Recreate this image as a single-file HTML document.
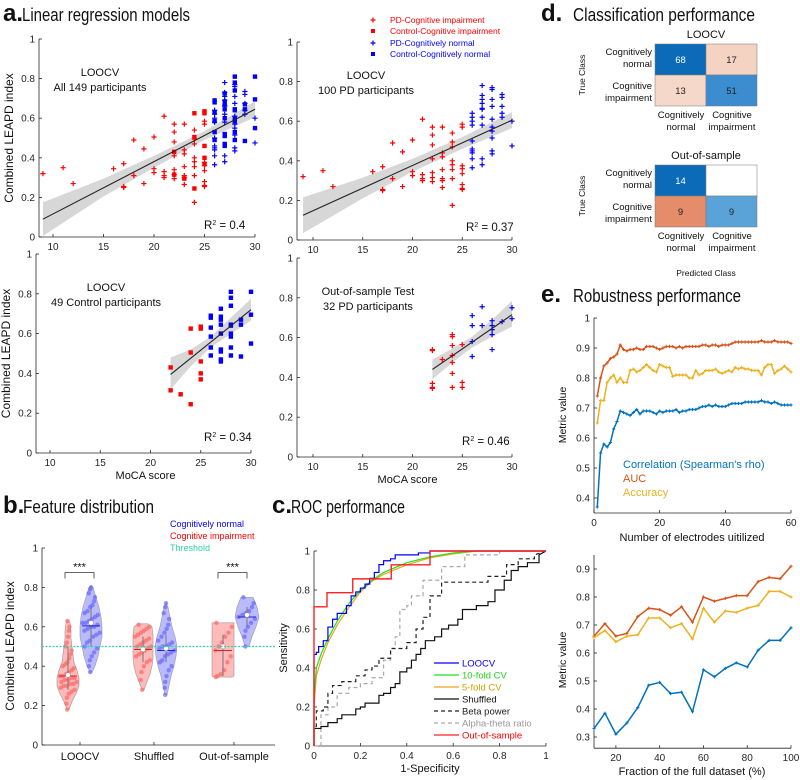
<!DOCTYPE html>
<html><head><meta charset="utf-8"><style>
html,body{margin:0;padding:0;background:#fff;}
svg{display:block;font-family:"Liberation Sans",sans-serif;}
.tk{font-size:10px;fill:#262626;}
.ttl{font-family:"Liberation Sans Narrow","Liberation Sans",sans-serif;font-size:18px;fill:#111;}
.lt{font-family:"Liberation Sans",sans-serif;font-weight:bold;font-size:24px;fill:#111;}
</style></head><body>
<svg id="fig" width="800" height="780" viewBox="0 0 800 780">
<rect x="0" y="0" width="800" height="780" fill="#fff"/>
<g><text x="3" y="21" class="lt">a.</text><text x="22" y="21" class="ttl" textLength="168" lengthAdjust="spacingAndGlyphs">Linear regression models</text></g>
<g><text x="3" y="513" class="lt">b.</text><text x="23" y="513" class="ttl" textLength="131" lengthAdjust="spacingAndGlyphs">Feature distribution</text></g>
<g><text x="272" y="513" class="lt">c.</text><text x="291" y="513" class="ttl" textLength="114" lengthAdjust="spacingAndGlyphs">ROC performance</text></g>
<g><text x="541" y="21" class="lt">d.</text><text x="573" y="21" class="ttl" textLength="182" lengthAdjust="spacingAndGlyphs">Classification performance</text></g>
<g><text x="541" y="302" class="lt">e.</text><text x="573" y="302" class="ttl" textLength="168" lengthAdjust="spacingAndGlyphs">Robustness performance</text></g>
<g font-size="8.5">
<text x="390" y="23" fill="#f00">PD-Cognitive impairment</text>
<text x="390" y="34" fill="#f00">Control-Cognitive impairment</text>
<text x="390" y="46" fill="#00f">PD-Cognitively normal</text>
<text x="390" y="57" fill="#00f">Control-Cognitively normal</text>
</g>
<g id="gA"></g>
<g id="gB"></g>
<g id="gC"></g>
<g id="gD"></g>
<g id="gE"></g>
</svg>
<script>
// ===== Panel a data: [MoCA, index] =====
const pdImpair=[[9,.32],[11,.35],[12,.27],[16,.345],[17,.37],[17,.255],[17,.25],[18,.49],[18,.31],[19,.445],[19,.27],[20,.505],[20,.345],[20,.325],[21,.61],[21,.33],[21,.31],[21,.3],[22,.57],[22,.53],[22,.48],[22,.41],[22,.34],[22,.315],[22,.295],[23,.57],[23,.44],[23,.42],[23,.355],[23,.31],[23,.3],[23,.265],[24,.54],[24,.495],[24,.47],[24,.4],[24,.38],[24,.355],[24,.31],[24,.175],[25,.585],[25,.57],[25,.375],[25,.36],[25,.335],[25,.28],[25,.26],[25,.255]];
const pdNormal=[[26,.64],[26,.62],[26,.6],[26,.58],[26,.5],[26,.46],[26,.45],[26,.44],[26,.41],[26,.365],[27,.78],[27,.73],[27,.71],[27,.69],[27,.665],[27,.66],[27,.62],[27,.58],[27,.41],[27,.38],[28,.77],[28,.76],[28,.71],[28,.675],[28,.61],[28,.57],[28,.55],[28,.515],[28,.45],[28,.435],[29,.735],[29,.72],[29,.675],[29,.64],[29,.62],[30,.6],[30,.475]];
const ctrlImpair=[[22,.43],[22,.315],[23,.295],[24,.245],[24,.505],[24,.625],[25,.635],[25,.625],[25,.46],[25,.4],[25,.37]];
const ctrlNormal=[[26,.69],[26,.68],[26,.63],[26,.585],[26,.53],[26,.49],[27,.725],[27,.685],[27,.67],[27,.645],[27,.6],[27,.52],[27,.51],[27,.47],[27,.46],[28,.81],[28,.78],[28,.74],[28,.645],[28,.64],[28,.6],[28,.585],[28,.53],[28,.49],[29,.67],[29,.645],[29,.485],[30,.81],[30,.695],[30,.55]];
const oosImpair=[[22,.54],[22,.535],[22,.37],[22,.35],[22,.345],[23,.49],[24,.615],[24,.605],[24,.56],[24,.51],[24,.475],[24,.42],[24,.35],[25,.565],[25,.375],[25,.35]];
const oosNormal=[[26,.71],[26,.66],[26,.58],[26,.505],[27,.755],[27,.66],[28,.685],[28,.66],[28,.64],[28,.615],[28,.54],[29,.68],[30,.75],[30,.695]];
const fitTL=[[9,.09],[30,.645]], fitTR=[[9,.125],[30,.605]], fitBL=[[22,.395],[30,.72]], fitBR=[[22,.44],[30,.715]];
const bandTL=[[9,.005,.175],[15,.205,.295],[20,.35,.41],[25,.49,.535],[30,.605,.685]];
const bandTR=[[9,.035,.215],[15,.21,.315],[20,.345,.41],[25,.46,.52],[30,.565,.645]];
const bandBL=[[22,.32,.48],[24,.435,.52],[26,.53,.585],[28,.6,.68],[30,.665,.775]];
const bandBR=[[22,.39,.49],[24,.475,.545],[26,.55,.605],[28,.605,.69],[30,.655,.785]];
const r2Labels=['0.4','0.37','0.34','0.46'];
const aXTicks=[10,15,20,25,30], aYTicks=[0,.2,.4,.6,.8,1];

// ===== Panel b data =====
const bCats=['LOOCV','Shuffled','Out-of-sample'];
const vLevels=[[.18,.22,.26,.3,.34,.38,.42,.46,.5,.54,.58,.62,.635],[.37,.4,.45,.5,.55,.6,.65,.7,.75,.8,.81],[.28,.32,.36,.4,.44,.48,.52,.56,.6,.615],[.255,.3,.35,.4,.45,.5,.55,.6,.65,.7,.72],[.345,.35,.4,.45,.5,.55,.6,.62],[.5,.55,.6,.65,.7,.75]];
const vWidths=[[1,4,8,11,11,9,6,5,4,3,3,2,0],[1,4,7,9,11,11,10,8,5,2,0],[1,4,7,9,10,10,10,10,9,5],[1,3,5,8,10,11,9,6,4,2,0],[9,11,11,11,11,11,11,11],[2,5,9,12,10,6]];
const vMedians=[.355,.62,.485,.49,.5,.66];
const vMeans=[.35,.605,.485,.48,.48,.65];
const vBoxLo=[.28,.5,.42,.42,.35,.6], vBoxHi=[.5,.7,.55,.56,.56,.7];
const vDots=[
[.18,.21,.24,.26,.27,.28,.29,.3,.3,.31,.31,.32,.32,.33,.33,.34,.34,.35,.35,.36,.37,.38,.39,.4,.41,.42,.44,.46,.48,.5,.52,.55,.58,.6,.63],
[.37,.4,.43,.45,.47,.49,.5,.52,.53,.55,.56,.57,.58,.59,.6,.6,.61,.62,.62,.63,.64,.65,.66,.67,.68,.7,.71,.73,.75,.77,.79,.8],
[.28,.33,.37,.4,.42,.43,.45,.46,.47,.48,.49,.5,.5,.51,.52,.53,.54,.55,.56,.57,.58,.59,.6,.61],
[.255,.29,.32,.35,.38,.4,.42,.43,.45,.46,.47,.48,.49,.5,.5,.51,.52,.53,.55,.57,.59,.61,.64,.67,.7,.72],
[.345,.35,.36,.38,.42,.45,.48,.5,.52,.55,.57,.6,.62],
[.5,.55,.58,.6,.62,.64,.65,.66,.67,.68,.7,.72,.75]];
const bYTicks=[0,.2,.4,.6,.8,1];
const threshold=.5;

// ===== Panel c data: [1-spec, sens] =====
const rocLOOCV=[[0,0],[0,.47],[.01,.47],[.01,.48],[.02,.48],[.02,.51],[.04,.51],[.04,.54],[.06,.54],[.06,.61],[.08,.61],[.08,.65],[.1,.65],[.1,.68],[.14,.68],[.14,.72],[.16,.72],[.16,.77],[.18,.77],[.18,.79],[.2,.79],[.2,.81],[.22,.81],[.22,.83],[.24,.83],[.24,.86],[.26,.86],[.26,.89],[.28,.89],[.28,.93],[.3,.93],[.3,.95],[.33,.95],[.33,.96],[.35,.96],[.35,.98],[.45,.98],[.45,.99],[.5,.99],[.5,1],[1,1]];
const roc10=[[0,0],[0,.25],[.01,.4],[.03,.47],[.06,.55],[.1,.64],[.15,.73],[.2,.8],[.25,.85],[.3,.89],[.4,.94],[.5,.97],[.6,.99],[.7,1],[1,1]];
const roc5=[[0,0],[0,.2],[.01,.36],[.03,.44],[.06,.53],[.1,.62],[.15,.71],[.2,.79],[.25,.845],[.3,.88],[.4,.93],[.5,.965],[.6,.985],[.7,1],[1,1]];
const rocShuf=[[0,0],[0,.09],[.03,.09],[.03,.1],[.06,.1],[.06,.12],[.1,.12],[.1,.14],[.12,.14],[.12,.16],[.18,.16],[.18,.19],[.2,.19],[.2,.2],[.22,.2],[.22,.22],[.28,.22],[.28,.26],[.3,.26],[.3,.27],[.33,.27],[.33,.3],[.35,.3],[.35,.32],[.37,.32],[.37,.38],[.4,.38],[.4,.4],[.42,.4],[.42,.44],[.44,.44],[.44,.47],[.46,.47],[.46,.5],[.48,.5],[.48,.54],[.52,.54],[.52,.56],[.55,.56],[.55,.6],[.58,.6],[.58,.62],[.62,.62],[.62,.65],[.64,.65],[.64,.7],[.7,.7],[.7,.72],[.75,.72],[.75,.74],[.78,.74],[.78,.8],[.82,.8],[.82,.85],[.85,.85],[.85,.9],[.88,.9],[.88,.92],[.92,.92],[.92,.94],[.97,.94],[.97,.98],[1,1]];
const rocBeta=[[0,0],[0,.1],[.01,.1],[.01,.18],[.04,.18],[.04,.2],[.06,.2],[.06,.27],[.08,.27],[.08,.31],[.12,.31],[.12,.33],[.18,.33],[.18,.36],[.22,.36],[.22,.39],[.25,.39],[.25,.41],[.28,.41],[.28,.45],[.33,.45],[.33,.5],[.4,.5],[.4,.53],[.44,.53],[.44,.6],[.47,.6],[.47,.66],[.5,.66],[.5,.77],[.55,.77],[.55,.84],[.75,.84],[.75,.87],[.83,.87],[.83,.93],[.88,.93],[.88,.96],[.95,.96],[.95,.98],[1,1]];
const rocAlpha=[[0,0],[.03,0],[.03,.16],[.06,.16],[.06,.2],[.1,.2],[.1,.27],[.15,.27],[.15,.3],[.2,.3],[.2,.32],[.25,.32],[.25,.35],[.3,.35],[.3,.44],[.33,.44],[.33,.5],[.35,.5],[.35,.56],[.37,.56],[.37,.7],[.4,.7],[.4,.72],[.42,.72],[.42,.77],[.47,.77],[.47,.85],[.55,.85],[.55,.92],[.65,.92],[.65,.98],[.8,.98],[.8,1],[1,1]];
const rocOOS=[[0,0],[0,.714],[.056,.714],[.056,.786],[.167,.786],[.167,.857],[.333,.857],[.333,.929],[.5,.929],[.5,1],[1,1]];
const cTicks=[0,.2,.4,.6,.8,1];

// ===== Panel d data =====
const cmLOOCV=[[68,17],[13,51]];
const cmOOS=[[14,0],[9,9]];

// ===== Panel e data =====
const eAUC1=[.74,.80,.84,.85,.865,.87,.88,.91,.895,.89,.895,.895,.9,.895,.895,.905,.905,.905,.9,.895,.9,.905,.905,.905,.9,.905,.9,.905,.905,.905,.905,.905,.91,.91,.905,.91,.91,.905,.91,.91,.91,.915,.92,.92,.92,.92,.92,.92,.92,.92,.925,.92,.92,.92,.925,.92,.92,.92,.92,.915];
const eAcc1=[.65,.725,.725,.785,.80,.81,.785,.80,.785,.785,.825,.83,.82,.825,.835,.845,.835,.825,.82,.845,.84,.835,.835,.805,.81,.81,.81,.81,.80,.80,.825,.81,.815,.825,.825,.825,.83,.82,.815,.82,.825,.82,.835,.83,.835,.83,.83,.825,.825,.825,.81,.835,.845,.845,.815,.825,.83,.84,.83,.82];
const eCorr1=[.37,.55,.58,.57,.585,.63,.655,.69,.685,.68,.675,.685,.695,.68,.69,.69,.69,.685,.68,.69,.685,.69,.69,.69,.695,.685,.69,.69,.695,.695,.695,.7,.705,.705,.71,.705,.71,.705,.705,.705,.71,.715,.715,.715,.715,.72,.72,.72,.72,.72,.725,.72,.72,.715,.72,.715,.71,.71,.71,.71];
const eFrac=[10,15,20,25,30,35,40,45,50,55,60,65,70,75,80,85,90,95,100];
const eAUC2=[.66,.705,.66,.67,.73,.76,.755,.735,.765,.71,.80,.785,.795,.805,.805,.855,.87,.865,.91];
const eAcc2=[.655,.68,.64,.66,.665,.725,.725,.69,.705,.65,.76,.71,.75,.745,.76,.77,.82,.82,.80];
const eCorr2=[.33,.385,.31,.35,.405,.485,.495,.455,.46,.39,.54,.515,.545,.565,.55,.61,.645,.645,.69];
const e1XTicks=[0,20,40,60], e1YTicks=[.4,.5,.6,.7,.8,.9,1];
const e2XTicks=[20,40,60,80,100], e2YTicks=[.3,.4,.5,.6,.7,.8,.9];

const NS='http://www.w3.org/2000/svg';
function mk(tag,attrs,parent){const e=document.createElementNS(NS,tag);for(const k in attrs)e.setAttribute(k,attrs[k]);parent.appendChild(e);return e;}
function lin(d0,d1,r0,r1){return v=>r0+(v-d0)*(r1-r0)/(d1-d0);}
function fmt(v){return (Math.round(v*10)/10).toString();}

function axes(g,sx,sy,x0,x1,y0,y1,xt,yt,xfmt,yfmt,name){
  const ya=mk('line',{x1:x0,y1:sy(y0),x2:x0,y2:sy(y1),stroke:'#262626','stroke-width':0.8},g);
  
  
  const xa=mk('line',{x1:x0,y1:sy(y0),x2:x1,y2:sy(y0),stroke:'#262626','stroke-width':0.8},g);
  
  
  yt.forEach(v=>{
    const t=mk('line',{x1:x0,y1:sy(v),x2:x0+3,y2:sy(v),stroke:'#262626','stroke-width':0.8},g);
    
    
    const l=mk('text',{x:x0-4,y:sy(v)+3.5,'text-anchor':'end',class:'tk'},g);
    l.textContent=yfmt(v);
    
    
  });
  if(xt) xt.forEach(v=>{
    const t=mk('line',{x1:sx(v),y1:sy(y0),x2:sx(v),y2:sy(y0)-3,stroke:'#262626','stroke-width':0.8},g);
    
    
    const l=mk('text',{x:sx(v),y:sy(y0)+13,'text-anchor':'middle',class:'tk'},g);
    l.textContent=xfmt(v);
    
    
  });
}
function txt(g,x,y,s,attrs,name){const t=mk('text',Object.assign({x:x,y:y},attrs),g);t.textContent=s;return t;}

// ---------- Panel a ----------
const gA=document.getElementById('gA');
const subs=[
 {ax:39,y1:39,y0:237,x10:53,x30:255,pts:[[pdImpair,'plus','#f00'],[pdNormal,'plus','#00f'],[ctrlImpair,'sq','#f00'],[ctrlNormal,'sq','#00f']],fit:fitTL,band:bandTL,l1:'LOOCV',l2:'All 149 participants',cx:100,r2x:204,r2y:229,nm:'all'},
 {ax:297,y1:42,y0:240,x10:313,x30:512,pts:[[pdImpair,'plus','#f00'],[pdNormal,'plus','#00f']],fit:fitTR,band:bandTR,l1:'LOOCV',l2:'100 PD participants',cx:366,r2x:466,r2y:231,nm:'pd'},
 {ax:36,y1:254,y0:453,x10:50,x30:251,pts:[[ctrlImpair,'sq','#f00'],[ctrlNormal,'sq','#00f']],fit:fitBL,band:bandBL,l1:'LOOCV',l2:'49 Control participants',cx:106,r2x:204,r2y:441,nm:'control'},
 {ax:297,y1:258,y0:457,x10:313,x30:512,pts:[[oosImpair,'plus','#f00'],[oosNormal,'plus','#00f']],fit:fitBR,band:bandBR,l1:'Out-of-sample Test',l2:'32 PD participants',cx:368,r2x:462,r2y:445,nm:'oos'}
];
subs.forEach((s,i)=>{
  const g=mk('g',{},gA);
  
  
  const sx=lin(10,30,s.x10,s.x30), sy=lin(0,1,s.y0,s.y1);
  axes(g,sx,sy,s.ax,s.x30,0,1,aXTicks,aYTicks,v=>v,fmt,'scatter-'+s.nm);
  const up=s.band.map(b=>sx(b[0])+','+sy(b[2])).join(' ');
  const dn=s.band.slice().reverse().map(b=>sx(b[0])+','+sy(b[1])).join(' ');
  const band=mk('polygon',{points:up+' '+dn,fill:'#d3d3d3',opacity:0.9},g);
  
  
  s.pts.forEach(([arr,mkr,col])=>{
    arr.forEach(p=>{
      const x=sx(p[0]),y=sy(p[1]);
      if(mkr==='sq'){
        const r=mk('rect',{x:x-2.2,y:y-2.2,width:4.4,height:4.4,fill:col},g);
        
        
      } else {
        const pth=mk('path',{d:`M${x-2.6},${y}H${x+2.6}M${x},${y-2.6}V${y+2.6}`,stroke:col,'stroke-width':1.2},g);
        
        
      }
    });
  });
  const fl=mk('line',{x1:sx(s.fit[0][0]),y1:sy(s.fit[0][1]),x2:sx(s.fit[1][0]),y2:sy(s.fit[1][1]),stroke:'#222','stroke-width':1.1},g);
  
  
  txt(g,s.cx,76,s.l1,{'text-anchor':'middle','font-size':'11',fill:'#111',transform:`translate(0,${s.y1-39})`},'annotation-title');
  txt(g,s.cx,91,s.l2,{'text-anchor':'middle','font-size':'11',fill:'#111',transform:`translate(0,${s.y1-39})`},'annotation-participants');
  const r=mk('text',{x:s.r2x,y:s.r2y,'font-size':'11.5',fill:'#111'},g);
  r.innerHTML='R<tspan dy="-4" font-size="7">2</tspan><tspan dy="4"> = '+r2Labels[i]+'</tspan>';
  
  
  if(i%2===0){
    txt(g,0,0,'Combined LEAPD index',{'text-anchor':'middle','font-size':'12',fill:'#111',transform:`translate(${s.ax-26},${(s.y0+s.y1)/2}) rotate(-90)`},'y-axis-title');
  }
  if(i>=2){
    txt(g,(s.x10+s.x30)/2-5,s.y0+26,'MoCA score',{'text-anchor':'middle','font-size':'11',fill:'#111'},'x-axis-title');
  }
});
(function(){
  const cols=['#f00','#f00','#00f','#00f'],types=['plus','sq','plus','sq'],ys=[20,31,43,54];
  types.forEach((t,i)=>{
    let m;
    if(t==='sq'){m=mk('rect',{x:371,y:ys[i]-2,width:4,height:4,fill:cols[i]},gA);}
    else {m=mk('path',{d:`M${370.5},${ys[i]}H${375.5}M${373},${ys[i]-2.5}V${ys[i]+2.5}`,stroke:cols[i],'stroke-width':1.2},gA);}
    
    
  });
})();

// ---------- Panel b ----------
const gB=document.getElementById('gB');
(function(){
  const sy=lin(0,1,745,548);
  const vx=[68,91,143,166,223,247];
  const catX=[80,154,234];
  const fills=['#f66','#66f','#f66','#66f','#f66','#66f'];
  const dark=['#d22','#22c','#d22','#22c','#d22','#22c'];
  axes(gB,null,sy,42,275,0,1,null,bYTicks,null,fmt,'violin');
  bCats.forEach((c,i)=>{
    const t=mk('line',{x1:catX[i],y1:745,x2:catX[i],y2:742,stroke:'#262626','stroke-width':0.8},gB);
    
    
    txt(gB,catX[i],760,c,{'text-anchor':'middle','font-size':'11',fill:'#111'},'category-label-'+i);
  });
  txt(gB,0,0,'Combined LEAPD index',{'text-anchor':'middle','font-size':'12',fill:'#111',transform:'translate(14,646) rotate(-90)'},'y-axis-title');
  vLevels.forEach((lv,i)=>{
    const w=vWidths[i],x=vx[i];
    const right=lv.map((v,k)=>(x+w[k])+','+sy(v));
    const left=lv.map((v,k)=>(x-w[k])+','+sy(v)).reverse();
    const p=mk('polygon',{points:right.concat(left).join(' '),fill:fills[i],'fill-opacity':0.45,stroke:'#999','stroke-width':0.6},gB);
    
    
    vDots[i].forEach((v,k)=>{
      let ww=0;for(let j=0;j<lv.length-1;j++){if(v>=lv[j]&&v<=lv[j+1]){const f=(v-lv[j])/(lv[j+1]-lv[j]);ww=w[j]+(w[j+1]-w[j])*f;}}
      const off=(((k*37)%17)-8)/8*ww*0.8;
      const d=mk('circle',{cx:x+off,cy:sy(v),r:2.2,fill:fills[i],'fill-opacity':0.7},gB);
      
      
    });
    const bx=mk('line',{x1:x,y1:sy(vBoxLo[i]),x2:x,y2:sy(vBoxHi[i]),stroke:'#777','stroke-width':1},gB);
    
    
    const mn=mk('line',{x1:x-9,y1:sy(vMeans[i]),x2:x+9,y2:sy(vMeans[i]),stroke:dark[i],'stroke-width':1},gB);
    
    
    const md=mk('circle',{cx:x,cy:sy(vMedians[i]),r:2.4,fill:'#fff',stroke:'#888','stroke-width':0.5},gB);
    
    
  });
  const th=mk('line',{x1:42,y1:sy(threshold),x2:275,y2:sy(threshold),stroke:'#2ed3a8','stroke-width':1.3,'stroke-dasharray':'2,1.5'},gB);
  
  
  [[65,94],[218,247]].forEach(([a,b])=>{
    const br=mk('path',{d:`M${a},${sy(.845)}V${sy(.875)}H${b}V${sy(.845)}`,fill:'none',stroke:'#333','stroke-width':0.8},gB);
    
    
    txt(gB,(a+b)/2,sy(.875)-2,'***',{'text-anchor':'middle','font-size':'11',fill:'#111'},'significance-stars');
  });
  txt(gB,170,527,'Cognitively normal',{'font-size':'9',fill:'#00f'},'legend-normal');
  txt(gB,170,539,'Cognitive impairment',{'font-size':'9',fill:'#f00'},'legend-impairment');
  txt(gB,170,551,'Threshold',{'font-size':'9',fill:'#2ed3a8'},'legend-threshold');
})();

// ---------- Panel c ----------
const gC=document.getElementById('gC');
(function(){
  const sx=lin(0,1,314,546), sy=lin(0,1,746,551);
  axes(gC,sx,sy,314,546,0,1,cTicks,cTicks,fmt,fmt,'roc');
  txt(gC,0,0,'Sensitivity',{'text-anchor':'middle','font-size':'11',fill:'#111',transform:'translate(287,648) rotate(-90)'},'y-axis-title');
  txt(gC,430,772,'1-Specificity',{'text-anchor':'middle','font-size':'11',fill:'#111'},'x-axis-title');
  const series=[[rocAlpha,'#aaa','4,3','alpha-theta'],[rocBeta,'#222','4,3','beta-power'],[rocShuf,'#111','','shuffled'],[roc5,'#f0a020','','five-fold'],[roc10,'#20e020','','ten-fold'],[rocLOOCV,'#00f','','loocv'],[rocOOS,'#f22','','out-of-sample']];
  series.forEach(([d,c,da,n])=>{
    const p=mk('polyline',{points:d.map(q=>sx(q[0])+','+sy(q[1])).join(' '),fill:'none',stroke:c,'stroke-width':n==='out-of-sample'?1.4:1.2,'stroke-dasharray':da},gC);
    
    
  });
  const leg=[['LOOCV','#00f','','#00f'],['10-fold CV','#20e020','','#20d020'],['5-fold CV','#f0a020','','#d9a000'],['Shuffled','#111','','#111'],['Beta power','#222','4,3','#222'],['Alpha-theta ratio','#aaa','4,3','#999'],['Out-of-sample','#f22','','#f00']];
  leg.forEach((l,i)=>{
    const y=663+i*12;
    const ln=mk('line',{x1:434,y1:y,x2:459,y2:y,stroke:l[1],'stroke-width':1.3,'stroke-dasharray':l[2]},gC);
    
    
    txt(gC,462,y+3.5,l[0],{'font-size':'9.5',fill:l[3]},'roc-legend-label');
  });
})();

// ---------- Panel d ----------
const gD=document.getElementById('gD');
(function(){
  const colLOO=[['#0b6bb8','#f4d3c3'],['#f5d8ca','#3b8dd0']];
  const colOOS=[['#0b6bb8','#ffffff'],['#e58c6b','#5aa3d8']];
  const txtCol=[['#fff','#222'],['#222','#222']];
  function cm(data,cols,top,title,nm){
    const g=mk('g',{},gD);
    
    
    const L=655,W=51,H=31;
    txt(g,706,top-6,title,{'text-anchor':'middle','font-size':'11',fill:'#111'},'matrix-title');
    data.forEach((row,r)=>row.forEach((v,c)=>{
      const rc=mk('rect',{x:L+c*W,y:top+r*H,width:W,height:H,fill:cols[r][c],stroke:'#777','stroke-width':0.5},g);
      
      
      if(v>0) txt(g,L+c*W+W/2,top+r*H+H/2+3.5,String(v),{'text-anchor':'middle','font-size':'9.5',fill:(nm==='oos'&&r===0)?'#fff':txtCol[r][c]},'matrix-value');
    }));
    txt(g,652,top+11,'Cognitively',{'text-anchor':'end','font-size':'9.5',fill:'#111'},'row-label');
    txt(g,652,top+23,'normal',{'text-anchor':'end','font-size':'9.5',fill:'#111'},'row-label');
    txt(g,652,top+45,'Cognitive',{'text-anchor':'end','font-size':'9.5',fill:'#111'},'row-label');
    txt(g,652,top+57,'impairment',{'text-anchor':'end','font-size':'9.5',fill:'#111'},'row-label');
    txt(g,681,top+74,'Cognitively',{'text-anchor':'middle','font-size':'9.5',fill:'#111'},'col-label');
    txt(g,681,top+86,'normal',{'text-anchor':'middle','font-size':'9.5',fill:'#111'},'col-label');
    txt(g,732,top+74,'Cognitive',{'text-anchor':'middle','font-size':'9.5',fill:'#111'},'col-label');
    txt(g,732,top+86,'impairment',{'text-anchor':'middle','font-size':'9.5',fill:'#111'},'col-label');
    txt(g,0,0,'True Class',{'text-anchor':'middle','font-size':'8.5',fill:'#111',transform:`translate(585,${top+31}) rotate(-90)`},'true-class-label');
  }
  cm(cmLOOCV,colLOO,44,'LOOCV','loocv');
  cm(cmOOS,colOOS,165,'Out-of-sample','oos');
  txt(gD,706,276,'Predicted Class',{'text-anchor':'middle','font-size':'8.5',fill:'#111'},'predicted-class-label');
})();

// ---------- Panel e ----------
const gE=document.getElementById('gE');
(function(){
  const C=['#0072BD','#D95319','#EDB120'];
  function line(g,sx,sy,xs,ys,col,nm){
    const p=mk('polyline',{points:ys.map((v,i)=>sx(xs[i])+','+sy(v)).join(' '),fill:'none',stroke:col,'stroke-width':1.5},g);
    
    
    ys.forEach((v,i)=>{
      const m=mk('path',{d:`M${sx(xs[i])-1.6},${sy(v)}H${sx(xs[i])+1.6}M${sx(xs[i])},${sy(v)-1.6}V${sy(v)+1.6}`,stroke:col,'stroke-width':1},g);
      
      
    });
  }
  const g1=mk('g',{},gE);
  
  
  const sx1=lin(0,60,594,791), sy1=lin(.4,1,498,318);
  axes(g1,sx1,sy1,594,791,.35,1,e1XTicks,e1YTicks,v=>v,fmt,'electrodes');
  const xs1=eAUC1.map((_,i)=>i+1);
  line(g1,sx1,sy1,xs1,eCorr1,C[0],'correlation-line');
  line(g1,sx1,sy1,xs1,eAUC1,C[1],'auc-line');
  line(g1,sx1,sy1,xs1,eAcc1,C[2],'accuracy-line');
  txt(g1,0,0,'Metric value',{'text-anchor':'middle','font-size':'10.5',fill:'#111',transform:'translate(566,415) rotate(-90)'},'y-axis-title');
  txt(g1,692,541,'Number of electrodes uitilized',{'text-anchor':'middle','font-size':'11',fill:'#111'},'x-axis-title');
  txt(g1,623,468,"Correlation (Spearman's rho)",{'font-size':'11',fill:C[0]},'legend-correlation');
  txt(g1,623,482,'AUC',{'font-size':'11',fill:C[1]},'legend-auc');
  txt(g1,623,496,'Accuracy',{'font-size':'11',fill:C[2]},'legend-accuracy');
  const g2=mk('g',{},gE);
  
  
  const sx2=lin(10,100,594,791), sy2=lin(.3,.9,737,569);
  axes(g2,sx2,sy2,594,791,.26,.95,e2XTicks,e2YTicks,v=>v,fmt,'fraction');
  line(g2,sx2,sy2,eFrac,eCorr2,C[0],'correlation-line');
  line(g2,sx2,sy2,eFrac,eAUC2,C[1],'auc-line');
  line(g2,sx2,sy2,eFrac,eAcc2,C[2],'accuracy-line');
  txt(g2,0,0,'Metric value',{'text-anchor':'middle','font-size':'10.5',fill:'#111',transform:'translate(566,660) rotate(-90)'},'y-axis-title');
  txt(g2,692,775,'Fraction of the full dataset (%)',{'text-anchor':'middle','font-size':'11',fill:'#111'},'x-axis-title');
})();
</script>
</body></html>
